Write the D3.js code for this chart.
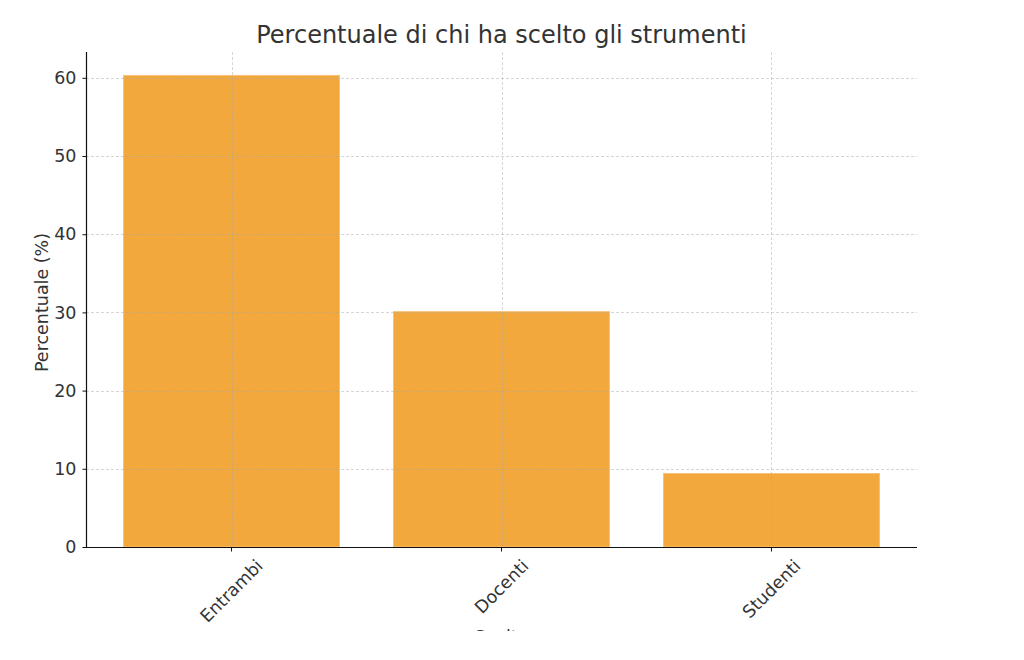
<!DOCTYPE html>
<html>
<head>
<meta charset="utf-8">
<script src="https://cdn.jsdelivr.net/npm/d3@7"></script>
<style>
  body { margin: 0; background: #fff; }
  text { font-family: "DejaVu Sans", sans-serif; fill: #333; }
</style>
</head>
<body>
<div id="chart"></div>
<script>
// data
const categories = ['Entrambi', 'Docenti', 'Studenti'];
const values = [60.3, 30.1, 9.4];
const yTicks = [0, 10, 20, 30, 40, 50, 60];

const W = 1024, H = 660;
const m = { left: 86, right: 917, top: 52, bottom: 547 };
const fs = 17.5;

const svg = d3.select('#chart').append('svg')
  .attr('width', W)
  .attr('height', H);

// the reference is cut off just under the x labels
svg.append('clipPath').attr('id', 'cut')
  .append('rect').attr('width', W).attr('height', 631);
const g = svg.append('g').attr('clip-path', 'url(#cut)');

const x = d3.scaleBand()
  .domain(categories)
  .range([m.left, m.right])
  .paddingInner(0.2)
  .paddingOuter(0.139);

const y = d3.scaleLinear()
  .domain([0, 63.3])
  .range([m.bottom, m.top]);

// bars
g.selectAll('rect.bar')
  .data(values)
  .enter().append('rect')
  .attr('class', 'bar')
  .attr('x', (d, i) => x(categories[i]))
  .attr('y', d => y(d))
  .attr('width', x.bandwidth())
  .attr('height', d => y(0) - y(d))
  .style('fill', '#f2a83c')
  .style('stroke', '#f6c27a')
  .style('stroke-width', 1);

// grid, drawn over the bars
const grid = g.append('g')
  .style('stroke', '#a8a8a8')
  .style('stroke-opacity', 0.6)
  .style('stroke-width', 0.8)
  .style('stroke-dasharray', '3,2');

grid.selectAll('line.h')
  .data(yTicks.slice(1))
  .enter().append('line')
  .attr('x1', m.left).attr('x2', m.right)
  .attr('y1', d => Math.round(y(d)) + 0.5)
  .attr('y2', d => Math.round(y(d)) + 0.5);

grid.selectAll('line.v')
  .data(categories)
  .enter().append('line')
  .attr('x1', d => Math.round(x(d) + x.bandwidth() / 2) + 0.5)
  .attr('x2', d => Math.round(x(d) + x.bandwidth() / 2) + 0.5)
  .attr('y1', m.top).attr('y2', m.bottom);

// y axis
const yAxis = g.append('g')
  .attr('transform', `translate(${m.left + 0.5},0)`)
  .call(d3.axisLeft(y).tickValues(yTicks).tickSize(4).tickPadding(6).tickSizeOuter(0));
yAxis.select('.domain').attr('d', `M0,${m.top}V${m.bottom + 0.5}`).style('stroke', '#111').style('stroke-width', 1.2);
yAxis.selectAll('.tick line').style('stroke', '#111');
yAxis.selectAll('.tick text').style('font-size', fs + 'px').style('fill', '#333');

// x axis
const xAxis = g.append('g')
  .attr('transform', `translate(0,${m.bottom + 0.5})`)
  .call(d3.axisBottom(x).tickSize(4).tickSizeOuter(0));
xAxis.select('.domain').attr('d', `M${m.left},0H${m.right}`).style('stroke', '#111').style('stroke-width', 1.2);
xAxis.selectAll('.tick line').style('stroke', '#111');
xAxis.selectAll('.tick text').remove();

// rotated x labels, bounding box centred under each tick
categories.forEach(c => {
  const t = g.append('text')
    .text(c)
    .style('font-size', fs + 'px')
    .attr('text-anchor', 'middle')
    .attr('dominant-baseline', 'central');
  const w = t.node().getComputedTextLength();
  const h = fs * 1.1;
  const cy = m.bottom + 9 + (w + h) * Math.SQRT1_2 / 2;
  const cx = x(c) + x.bandwidth() / 2;
  t.attr('transform', `translate(${cx},${cy}) rotate(-45)`);
});

// axis titles
g.append('text')
  .attr('transform', `translate(42,${(m.top + m.bottom) / 2 + 3}) rotate(-90)`)
  .attr('text-anchor', 'middle')
  .attr('dominant-baseline', 'central')
  .style('font-size', fs + 'px')
  .text('Percentuale (%)');

g.append('text')
  .attr('x', (m.left + m.right) / 2)
  .attr('y', 643)
  .attr('text-anchor', 'middle')
  .style('font-size', fs + 'px')
  .text('Scelta');

g.append('text')
  .attr('x', (m.left + m.right) / 2)
  .attr('y', 43)
  .attr('text-anchor', 'middle')
  .style('font-size', '24px')
  .text('Percentuale di chi ha scelto gli strumenti');
</script>
</body>
</html>
